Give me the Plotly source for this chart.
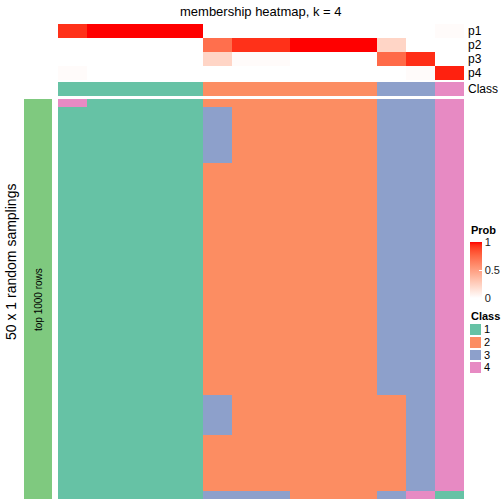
import plotly.graph_objects as go
import numpy as np

W = H = 504

# ---------------- data ----------------
row_labels = ["p1", "p2", "p3", "p4"]
p1 = [0.93, 1.0, 1.0, 1.0, 1.0, 0, 0, 0, 0, 0, 0, 0, 0, 0.02]
p2 = [0, 0, 0, 0, 0, 0.72, 0.93, 0.93, 1.0, 1.0, 1.0, 0.22, 0, 0]
p3 = [0, 0, 0, 0, 0, 0.22, 0.02, 0.02, 0, 0, 0, 0.74, 0.94, 0]
p4 = [0.02, 0, 0, 0, 0, 0, 0, 0, 0, 0, 0, 0, 0.02, 0.96]
class_row = [1, 1, 1, 1, 1, 2, 2, 2, 2, 2, 2, 3, 3, 4]

# 50 random samplings x 14 samples (class assignments)
base_row = [1, 1, 1, 1, 1, 2, 2, 2, 2, 2, 2, 3, 3, 4]
sampling_rows = [list(base_row) for _ in range(50)]
sampling_rows[0][0] = 4
for r in range(1, 8):
    sampling_rows[r][5] = 3
for r in range(37, 42):
    sampling_rows[r][5] = 3
for r in range(37, 49):
    sampling_rows[r][11] = 2
sampling_rows[49] = [1, 1, 1, 1, 1, 3, 3, 3, 2, 2, 2, 3, 4, 1]

class_levels = ["1", "2", "3", "4"]
class_colors = ["#66C2A5", "#FC8D62", "#8DA0CB", "#E78AC3"]
bar_color = "#7FC97F"

FONT = "Liberation Sans, Arial, Helvetica, sans-serif"

# ---------------- helpers ----------------
def srgb_to_lin(c):
    c = c / 255.0
    return np.where(c <= 0.04045, c / 12.92, ((c + 0.055) / 1.055) ** 2.4)

def lin_to_srgb(c):
    c = np.clip(c, 0, 1)
    return np.where(c <= 0.0031308, 12.92 * c, 1.055 * c ** (1 / 2.4) - 0.055) * 255

def rgb_to_lab(rgb):
    r, g, b = srgb_to_lin(np.array(rgb, float))
    X = (0.4124 * r + 0.3576 * g + 0.1805 * b) / 0.95047
    Y = (0.2126 * r + 0.7152 * g + 0.0722 * b)
    Z = (0.0193 * r + 0.1192 * g + 0.9505 * b) / 1.08883
    f = lambda t: np.where(t > 0.008856, np.cbrt(t), 7.787 * t + 16 / 116)
    fx_, fy_, fz_ = f(X), f(Y), f(Z)
    return np.array([116 * fy_ - 16, 500 * (fx_ - fy_), 200 * (fy_ - fz_)])

def lab_to_rgb(lab):
    L, a, b = lab
    fy_ = (L + 16) / 116
    fx_ = fy_ + a / 500
    fz_ = fy_ - b / 200
    finv = lambda t: np.where(t ** 3 > 0.008856, t ** 3, (t - 16 / 116) / 7.787)
    X, Y, Z = finv(fx_) * 0.95047, finv(fy_), finv(fz_) * 1.08883
    r = 3.2406 * X - 1.5372 * Y - 0.4986 * Z
    g = -0.9689 * X + 1.8758 * Y + 0.0415 * Z
    bb = 0.0557 * X - 0.2040 * Y + 1.0570 * Z
    return [int(round(float(v))) for v in lin_to_srgb(np.array([r, g, bb]))]

lw = rgb_to_lab([255, 255, 255])
lr = rgb_to_lab([255, 0, 0])
prob_scale = []
for t in np.linspace(0, 1, 21):
    c = lab_to_rgb(lw + (lr - lw) * t)
    prob_scale.append([float(t), f"rgb({c[0]},{c[1]},{c[2]})"])

def discrete_scale(colors):
    n = len(colors)
    s = []
    for i, c in enumerate(colors):
        s.append([i / n, c])
        s.append([(i + 1) / n, c])
    return s

class_scale = discrete_scale(class_colors)

def fy(px):
    return 1 - px / H

def fx(px):
    return px / W

ncol = len(class_row)
cols = list(range(ncol))

fig = go.Figure()

# probability heatmap
fig.add_trace(go.Heatmap(
    z=[p1, p2, p3, p4], x=cols, y=row_labels,
    colorscale=prob_scale, zmin=0, zmax=1, xaxis="x", yaxis="y",
    hoverinfo="skip",
    colorbar=dict(
        x=fx(470), xanchor="left", xpad=0, y=fy(242), yanchor="top", ypad=0,
        len=56 / H, lenmode="fraction", thickness=12, outlinewidth=0,
        tickvals=[0, 0.5, 1], ticktext=["0", "0.5", "1"], ticks="inside",
        ticklen=3, tickcolor="white", tickfont=dict(size=11, color="#222", family=FONT),
    ),
))

# class annotation row
fig.add_trace(go.Heatmap(
    z=[class_row], x=cols, y=["Class"],
    colorscale=class_scale, zmin=0.5, zmax=4.5, showscale=False,
    xaxis="x", yaxis="y2", hoverinfo="skip",
))

# main heatmap of samplings
fig.add_trace(go.Heatmap(
    z=sampling_rows, x=cols, y=list(range(len(sampling_rows))),
    colorscale=class_scale, zmin=0.5, zmax=4.5, showscale=False,
    xaxis="x", yaxis="y3", hoverinfo="skip",
))

# left green group bar
fig.add_trace(go.Heatmap(
    z=[[1]], x=[0], y=[0], colorscale=[[0, bar_color], [1, bar_color]],
    showscale=False, xaxis="x2", yaxis="y4", hoverinfo="skip",
))

# class legend as small heatmap
fig.add_trace(go.Heatmap(
    z=[[int(v)] for v in class_levels], x=[0], y=class_levels,
    colorscale=class_scale, zmin=0.5, zmax=4.5, showscale=False, ygap=2,
    xaxis="x3", yaxis="y5", hoverinfo="skip",
))

noax = dict(showgrid=False, zeroline=False, showticklabels=False, ticks="", showline=False)

fig.update_layout(
    width=W, height=H, margin=dict(l=0, r=0, t=0, b=0),
    paper_bgcolor="white", plot_bgcolor="white",
    font=dict(family=FONT, color="black"),
    showlegend=False,
    xaxis=dict(domain=[fx(58), fx(464)], range=[-0.5, ncol - 0.5], anchor="y3", **noax),
    yaxis=dict(domain=[fy(80), fy(24)], anchor="x", side="right", autorange="reversed",
               tickmode="array", tickvals=row_labels, ticktext=row_labels,
               showgrid=False, zeroline=False, ticks="", showline=False,
               tickfont=dict(size=12, color="black", family=FONT), ticklabelstandoff=3),
    yaxis2=dict(domain=[fy(96), fy(82)], anchor="x", side="right",
                tickmode="array", tickvals=["Class"], ticktext=["Class"],
                showgrid=False, zeroline=False, ticks="", showline=False,
                tickfont=dict(size=12, color="black", family=FONT), ticklabelstandoff=3),
    yaxis3=dict(domain=[fy(499), fy(99)], anchor="x", autorange="reversed", **noax),
    xaxis2=dict(domain=[fx(24), fx(52)], anchor="y4", **noax),
    yaxis4=dict(domain=[fy(499), fy(99)], anchor="x2", **noax),
    xaxis3=dict(domain=[fx(470), fx(481)], anchor="y5", **noax),
    yaxis5=dict(domain=[fy(374), fy(323)], anchor="x3", side="right", autorange="reversed",
                tickmode="array", tickvals=class_levels, ticktext=class_levels,
                showgrid=False, zeroline=False, ticks="", showline=False,
                tickfont=dict(size=11, color="black", family=FONT), ticklabelstandoff=2),
    annotations=[
        dict(text="membership heatmap, k = 4", x=fx(261), y=fy(11), xref="paper", yref="paper",
             showarrow=False, font=dict(size=13, family=FONT, color="black"),
             xanchor="center", yanchor="middle"),
        dict(text="50 x 1 random samplings", x=fx(11), y=fy(262), xref="paper", yref="paper",
             showarrow=False, textangle=-90, font=dict(size=14, family=FONT, color="black"),
             xanchor="center", yanchor="middle"),
        dict(text="top 1000 rows", x=fx(38), y=fy(300), xref="paper", yref="paper",
             showarrow=False, textangle=-90, font=dict(size=10, family=FONT, color="black"),
             xanchor="center", yanchor="middle"),
        dict(text="<b>Prob</b>", x=fx(469), y=fy(230), xref="paper", yref="paper",
             showarrow=False, font=dict(size=11, family=FONT, color="black"),
             xanchor="left", yanchor="middle"),
        dict(text="<b>Class</b>", x=fx(469), y=fy(316), xref="paper", yref="paper",
             showarrow=False, font=dict(size=11, family=FONT, color="black"),
             xanchor="left", yanchor="middle"),
    ],
)

fig.write_html("out.html", config={"displayModeBar": False},
               post_script="document.body.style.margin='0';document.body.style.padding='0';")
